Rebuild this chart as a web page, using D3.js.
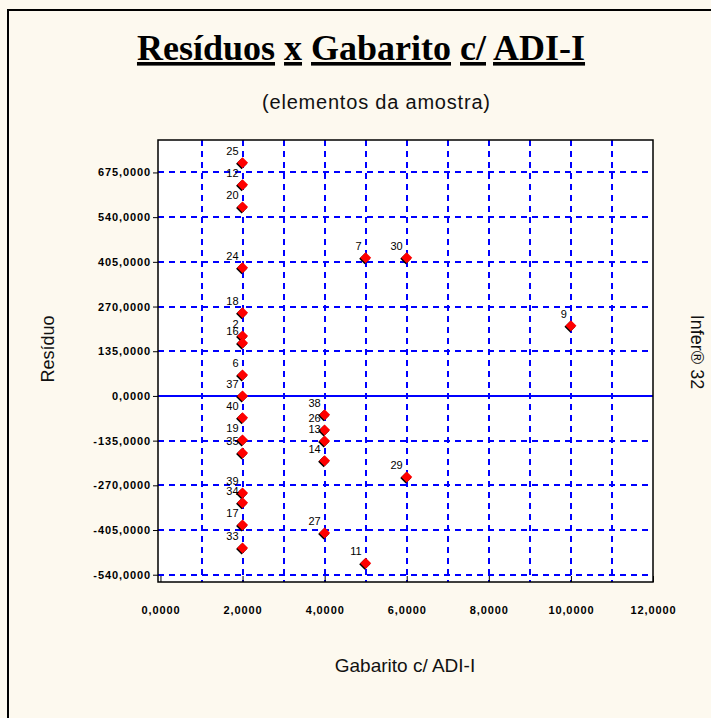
<!DOCTYPE html>
<html>
<head>
<meta charset="utf-8">
<script src="https://cdn.jsdelivr.net/npm/d3@7"></script>
<style>
  html, body { margin: 0; padding: 0; background: #fdf9ef; }
  svg { display: block; }
  text { font-family: "Liberation Sans", Arial, sans-serif; }
</style>
</head>
<body>
<svg id="chart" width="711" height="718"></svg>
<script>
// elementos da amostra: id, gabarito (x) e resíduo (y)
const ids       = ["25", "12", "20", "24", "18", "2", "16", "6", "37", "40", "19", "35", "39", "34", "17", "33",
                   "38", "26", "13", "14", "27", "7", "11", "30", "29", "9"];
const gabarito  = [2, 2, 2, 2, 2, 2, 2, 2, 2, 2, 2, 2, 2, 2, 2, 2,
                   4, 4, 4, 4, 4, 5, 5, 6, 6, 10];
const residuos  = [704, 638, 571, 387, 251, 181, 160, 63, 0, -66, -133, -172, -293, -323, -390, -459,
                   -57, -103, -136, -196, -414, 417, -505, 417, -245, 212];

const xTicks = [0, 2, 4, 6, 8, 10, 12];
const xGrid  = [1, 2, 3, 4, 5, 6, 7, 8, 9, 10, 11];
const yTicks = [-540, -405, -270, -135, 0, 135, 270, 405, 540, 675];

const svg = d3.select('#chart');

// moldura externa
svg.append('rect')
    .attr('x', 8).attr('y', 10)
    .attr('width', 720).attr('height', 720)
    .attr('fill', '#fdf9ef')
    .attr('stroke', '#000')
    .attr('stroke-width', 2);

const plot = {left: 158, right: 653, top: 140, bottom: 582};

const x = d3.scaleLinear().domain([-0.06, 12]).range([plot.left, plot.right]);
const y = d3.scaleLinear().domain([-562, 773]).range([plot.bottom, plot.top]);

svg.append('rect')
    .attr('x', plot.left).attr('y', plot.top)
    .attr('width', plot.right - plot.left).attr('height', plot.bottom - plot.top)
    .attr('fill', '#fff');

// grade
const grid = svg.append('g').attr('stroke', '#0000ff').attr('stroke-width', 2);
grid.selectAll('.vg')
    .data(xGrid)
    .enter()
    .append('line')
    .attr('x1', d => Math.round(x(d))).attr('x2', d => Math.round(x(d)))
    .attr('y1', plot.top).attr('y2', plot.bottom)
    .attr('stroke-dasharray', '6,5');
grid.selectAll('.hg')
    .data(yTicks.filter(d => d !== 0))
    .enter()
    .append('line')
    .attr('x1', plot.left).attr('x2', plot.right)
    .attr('y1', d => Math.round(y(d))).attr('y2', d => Math.round(y(d)))
    .attr('stroke-dasharray', '6,5');
grid.append('line')
    .attr('x1', plot.left).attr('x2', plot.right)
    .attr('y1', Math.round(y(0))).attr('y2', Math.round(y(0)));

const fmt = v => d3.format('.4f')(v).replace('.', ',').replace('−', '-');

// eixos
const yAxis = svg.append('g')
    .attr('transform', `translate(${plot.left},0)`)
    .call(d3.axisLeft(y).tickValues(yTicks).tickSize(5).tickPadding(2).tickFormat(fmt));
const xAxis = svg.append('g')
    .attr('transform', `translate(0,${plot.bottom})`)
    .call(d3.axisBottom(x).tickValues(xTicks).tickSize(-6).tickPadding(24).tickFormat(fmt));

[yAxis, xAxis].forEach(ax => {
    ax.select('.domain').remove();
    ax.selectAll('line').attr('stroke', '#000');
    ax.selectAll('text')
        .attr('font-size', '11px')
        .attr('font-weight', 'bold')
        .attr('letter-spacing', '0.9px')
        .attr('fill', '#000');
});

svg.append('rect')
    .attr('x', plot.left).attr('y', plot.top)
    .attr('width', plot.right - plot.left).attr('height', plot.bottom - plot.top)
    .attr('fill', 'none')
    .attr('stroke', '#000')
    .attr('stroke-width', 1.5);

// pontos e rótulos
const pts = ids.map((id, i) => ({id: id, gx: gabarito[i], r: residuos[i]}));

const diamond = 'M0,-5.5 L5.5,0 L0,5.5 L-5.5,0 Z';
const marks = svg.append('g');
pts.forEach(d => {
    const px = x(d.gx), py = y(d.r);
    marks.append('text')
        .attr('x', px - 4)
        .attr('y', py - 8)
        .attr('text-anchor', 'end')
        .attr('font-size', '11px')
        .attr('fill', '#000')
        .text(d.id);
    marks.append('path')
        .attr('d', diamond)
        .attr('transform', `translate(${px - 1},${py + 1})`)
        .attr('fill', '#000');
    marks.append('path')
        .attr('d', diamond)
        .attr('transform', `translate(${px},${py})`)
        .attr('fill', '#ff0000');
});

// títulos
const title = svg.append('text')
    .attr('x', 361)
    .attr('y', 60)
    .attr('text-anchor', 'middle')
    .style('font-family', '"Liberation Serif", "Times New Roman", serif')
    .attr('font-size', '36px')
    .attr('font-weight', 'bold')
    .attr('fill', '#000');
['Resíduos', ' ', 'x', ' ', 'Gabarito', ' ', 'c/', ' ', 'ADI-I'].forEach(w => {
    title.append('tspan')
        .style('text-decoration', w === ' ' ? 'none' : 'underline')
        .text(w);
});

svg.append('text')
    .attr('x', 376).attr('y', 109)
    .attr('text-anchor', 'middle')
    .attr('font-size', '20px')
    .attr('textLength', 228)
    .attr('fill', '#111')
    .text('(elementos da amostra)');

svg.append('text')
    .attr('transform', 'translate(54,349) rotate(-90)')
    .attr('text-anchor', 'middle')
    .attr('font-size', '18px')
    .attr('fill', '#111')
    .text('Resíduo');

svg.append('text')
    .attr('x', 405).attr('y', 672)
    .attr('text-anchor', 'middle')
    .attr('font-size', '19px')
    .attr('fill', '#111')
    .text('Gabarito c/ ADI-I');

svg.append('text')
    .attr('transform', 'translate(691,352) rotate(90)')
    .attr('text-anchor', 'middle')
    .attr('font-size', '18px')
    .attr('fill', '#111')
    .text('Infer® 32');
</script>
</body>
</html>
